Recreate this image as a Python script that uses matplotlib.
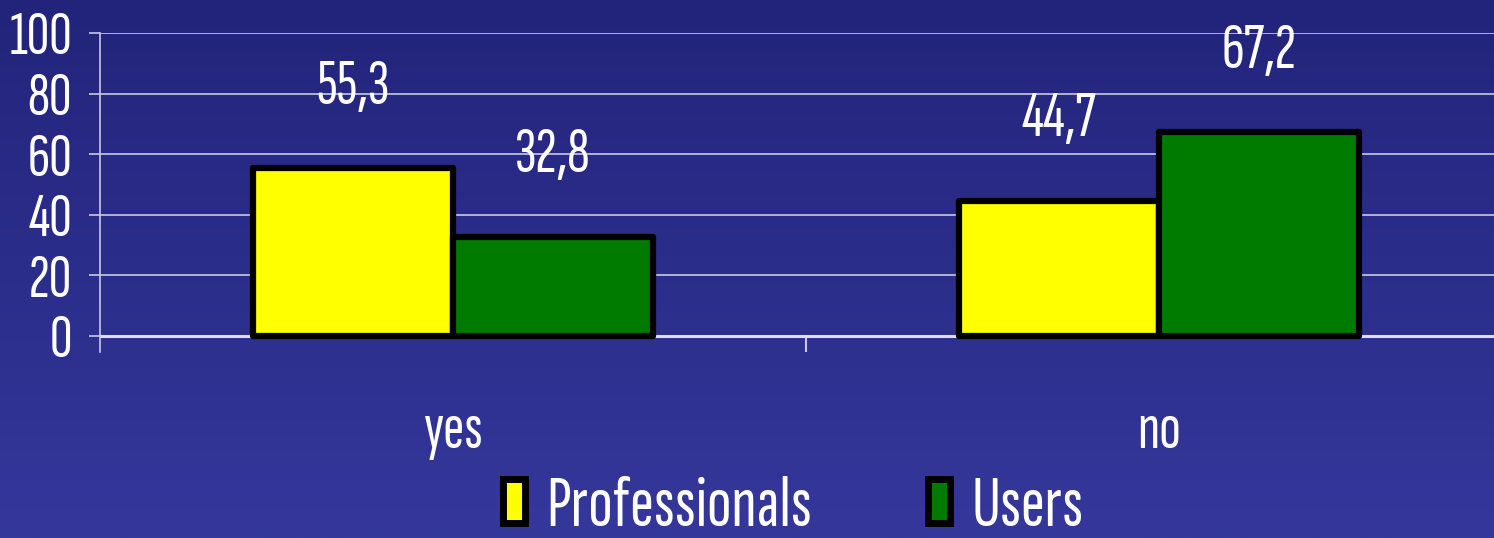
import matplotlib
matplotlib.use("Agg")
import matplotlib.pyplot as plt
import matplotlib.transforms as mtransforms
import numpy as np
from matplotlib.colors import LinearSegmentedColormap

categories = ["yes", "no"]
series_names = ["Professionals", "Users"]
professionals = [55.3, 44.7]
users = [32.8, 67.2]
value_labels_prof = ["55,3", "44,7"]
value_labels_users = ["32,8", "67,2"]
yticks = [0, 20, 40, 60, 80, 100]

colors = ["#ffff00", "#007b00"]
FONT = ["Sofia Sans Extra Condensed", "Fira Sans Extra Condensed", "Liberation Sans", "DejaVu Sans"]
plt.rcParams['font.family'] = FONT

W, H = 1494, 538
fig = plt.figure(figsize=(W / 100, H / 100), dpi=100)

# background gradient
bg = fig.add_axes([0, 0, 1, 1], zorder=-10)
grad = np.linspace(0, 1, 256).reshape(-1, 1)
cmap = LinearSegmentedColormap.from_list("bg", ["#22247b", "#35379b"])
bg.imshow(grad, aspect='auto', cmap=cmap, extent=[0, 1, 0, 1], origin='upper')
bg.set_axis_off()

left = 100 / W
right_px = 1512
top_px, bot_px = 33, 352
ax = fig.add_axes([left, 1 - bot_px / H, (right_px - 100) / W, (bot_px - top_px) / H])
ax.set_facecolor("none")

x = np.arange(len(categories))
width = 0.283
b1 = ax.bar(x - width / 2, professionals, width, color=colors[0], edgecolor="black",
            linewidth=4.5, zorder=3, label=series_names[0], joinstyle='round')
b2 = ax.bar(x + width / 2, users, width, color=colors[1], edgecolor="black",
            linewidth=4.5, zorder=3, label=series_names[1], joinstyle='round')

for bars, labs in ((b1, value_labels_prof), (b2, value_labels_users)):
    for rect, lab in zip(bars, labs):
        ax.annotate(lab, (rect.get_x() + rect.get_width() / 2, rect.get_height()),
                    xytext=(0, 58), textcoords="offset points", ha="center", va="center",
                    color="white", fontsize=46)

ax.set_xlim(-0.5, len(categories) - 0.5)
ax.set_ylim(-5.3, 100)
ax.set_yticks(yticks)
ax.set_yticklabels([str(v) for v in yticks], fontsize=45, color="white")
ax.tick_params(axis='y', direction='out', length=8, width=1.2, color="#c8c8e0", pad=12)
ax.grid(axis='y', color="#c8c8e6", linewidth=1.2, zorder=1)
ax.axhline(0, color="#dedee8", linewidth=2.2, zorder=2)

# category separators as x ticks (drawn inward from the axes bottom up to 0)
ax.set_xticks(np.arange(len(categories) - 1) + 0.5)
ax.set_xticklabels([])
ax.tick_params(axis='x', direction='in', length=11.5, width=1.5, color="#c8c8e0")
cat_tr = ax.get_xaxis_transform() + mtransforms.ScaledTranslation(0, -0.8, fig.dpi_scale_trans)
for xi, cat in zip(x, categories):
    ax.text(xi, 0, cat, transform=cat_tr, ha="center", va="center",
            fontsize=46, color="white")

for s in ("top", "right", "bottom"):
    ax.spines[s].set_visible(False)
ax.spines["left"].set_color("#c8c8e0")
ax.spines["left"].set_linewidth(1.2)

leg = fig.legend(handles=[b1, b2], labels=series_names, loc="center", bbox_to_anchor=(0.531, 0.055),
                 ncol=2, frameon=False, fontsize=52, labelcolor="white",
                 handlelength=0.3, handleheight=0.55, handletextpad=0.3, columnspacing=1.6,
                 borderpad=0)
for h in leg.legend_handles:
    h.set_linewidth(5)

fig.savefig("out.png", dpi=100)
